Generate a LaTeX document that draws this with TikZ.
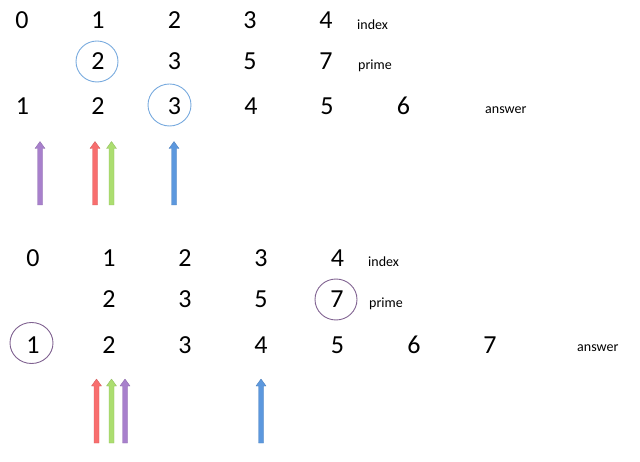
\documentclass[tikz,border=0pt]{standalone}
\usepackage{fontspec}
\setmainfont{Carlito}
\definecolor{arRed}{RGB}{248,110,110}
\definecolor{arGreen}{RGB}{172,222,112}
\definecolor{arPurple}{RGB}{168,128,204}
\definecolor{arBlue}{RGB}{92,152,222}
\definecolor{cBlue}{RGB}{120,170,222}
\definecolor{cPurple}{RGB}{128,98,145}
\newcommand\myarrow[4]{%
  \filldraw[fill=#1, draw=#1!85!black, line width=0.4pt, line join=round]
    ({#2-2.5},#4) -- ({#2-2.5},{#3+7}) -- ({#2-5},{#3+7}) -- (#2,#3)
    -- ({#2+5},{#3+7}) -- ({#2+2.5},{#3+7}) -- ({#2+2.5},#4) -- cycle;}
\tikzset{
  num/.style={anchor=base, inner sep=0pt, font=\fontsize{26}{26}\selectfont},
  lab/.style={anchor=base west, inner sep=0pt, font=\fontsize{14}{14}\selectfont},
  ringblue/.style={draw=cBlue, line width=0.9pt},
  ringpurple/.style={draw=cPurple, line width=0.9pt}
}
\begin{document}
\begin{tikzpicture}[x=1pt,y=-1pt]
\useasboundingbox (0,0) rectangle (640,462);
% ---------- top block ----------
\node[num] (ti0) at (22,29) {0};
\node[num] (ti1) at (98,29) {1};
\node[num] (ti2) at (174.5,29) {2};
\node[num] (ti3) at (250,29) {3};
\node[num] (ti4) at (326,29) {4};
\node[lab] (tindex) at (357,30) {index};
\node[num] (tp1) at (98,70) {2};
\node[num] (tp2) at (174.5,70) {3};
\node[num] (tp3) at (250,70) {5};
\node[num] (tp4) at (326,70) {7};
\node[lab] (tprime) at (358,70) {prime};
\node[num] (ta0) at (22.5,115) {1};
\node[num] (ta1) at (98,115) {2};
\node[num] (ta2) at (174.5,115) {3};
\node[num] (ta3) at (251,115) {4};
\node[num] (ta4) at (327,115) {5};
\node[num] (ta5) at (403.5,115) {6};
\node[lab] (tanswer) at (485,114) {answer};
\draw[ringblue] (97,61.5) ellipse (21 and 20.5);
\draw[ringblue] (169.5,105) ellipse (21.5 and 21);
\myarrow{arPurple}{40}{141.5}{205}
\myarrow{arRed}{95}{141.5}{205}
\myarrow{arGreen}{111.5}{141.5}{205}
\myarrow{arBlue}{174}{141.5}{205}
% ---------- bottom block ----------
\node[num] (bi0) at (33,267) {0};
\node[num] (bi1) at (109,267) {1};
\node[num] (bi2) at (185,267) {2};
\node[num] (bi3) at (261,267) {3};
\node[num] (bi4) at (337.5,267) {4};
\node[lab] (bindex) at (368,267) {index};
\node[num] (bp1) at (109,308) {2};
\node[num] (bp2) at (185,308) {3};
\node[num] (bp3) at (261,308) {5};
\node[num] (bp4) at (337,308) {7};
\node[lab] (bprime) at (369,308) {prime};
\node[num] (ba0) at (33,353) {1};
\node[num] (ba1) at (109,353) {2};
\node[num] (ba2) at (185,353) {3};
\node[num] (ba3) at (261,353) {4};
\node[num] (ba4) at (337.5,353) {5};
\node[num] (ba5) at (414,353) {6};
\node[num] (ba6) at (490,353) {7};
\node[lab] (banswer) at (577,352) {answer};
\draw[ringpurple] (336,299.5) ellipse (21 and 20.5);
\draw[ringpurple] (31.5,343) ellipse (21.5 and 20.5);
\myarrow{arRed}{96.5}{379}{443}
\myarrow{arGreen}{111.5}{379}{443}
\myarrow{arPurple}{125}{379}{443}
\myarrow{arBlue}{261}{379}{443}
\end{tikzpicture}
\end{document}
